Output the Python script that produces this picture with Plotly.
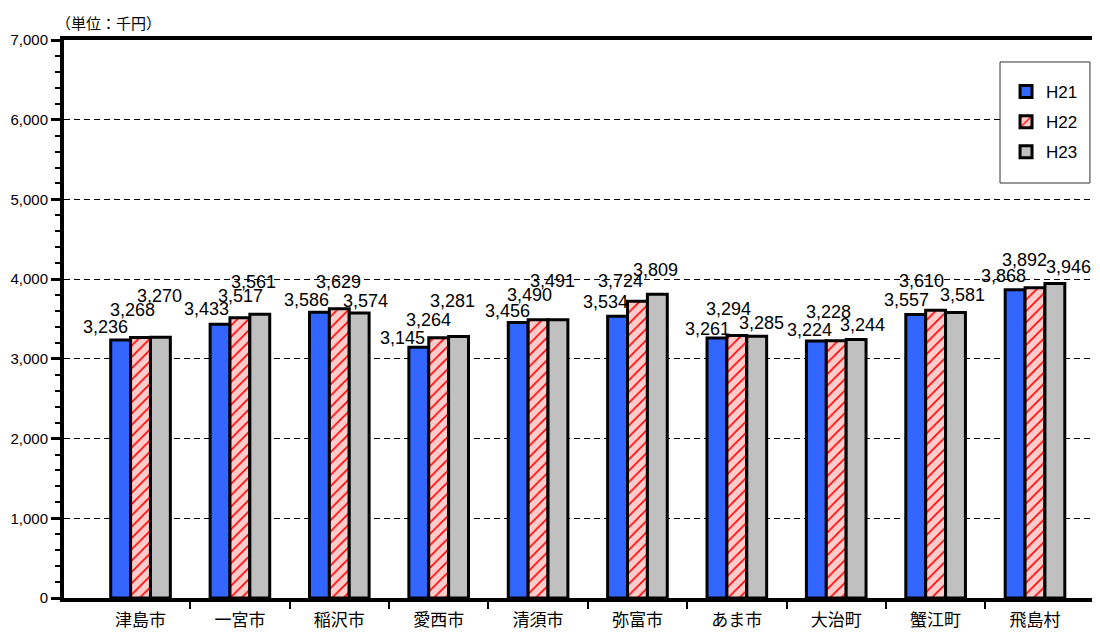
import plotly.graph_objects as go

# 市町村別の値（単位：千円）
categories = ["津島市", "一宮市", "稲沢市", "愛西市", "清須市", "弥富市", "あま市", "大治町", "蟹江町", "飛島村"]
h21 = [3236, 3433, 3586, 3145, 3456, 3534, 3261, 3224, 3557, 3868]
h22 = [3268, 3517, 3629, 3264, 3490, 3724, 3294, 3228, 3610, 3892]
h23 = [3270, 3561, 3574, 3281, 3491, 3809, 3285, 3244, 3581, 3946]
series_names = ["H21", "H22", "H23"]

# label nudges in px (dx, dy) per category, per series - the original labels were placed by hand
label_shift = [
    [(-15, 13), (-8, 27), (-1, 41)],
    [(-14, 15), (1, 22), (-6, 32)],
    [(-13, 12), (-1, 27), (6, 12)],
    [(-16, 9), (-10, 18), (-6, 35)],
    [(-11, 12), (-9, 25), (-5, 39)],
    [(-12, 14), (-17, 20), (-2, 24)],
    [(-9, 9), (-8, 26), (5, 13)],
    [(-7, 11), (-8, 29), (6, 14)],
    [(-9, 14), (-14, 29), (7, 18)],
    [(-12, 14), (-11, 28), (14, 16)],
]

x = list(range(len(categories)))

fig = go.Figure()
fig.add_trace(go.Bar(
    x=x, y=h21, name=series_names[0], legendgroup="a",
    marker=dict(color="#3366ff", line=dict(color="black", width=3)),
))
fig.add_trace(go.Bar(
    x=x, y=h22, name=series_names[1], legendgroup="b",
    marker=dict(
        color="#ffcccc",
        line=dict(color="black", width=3),
        pattern=dict(shape="/", fgcolor="#ff0000", bgcolor="#ffcccc", size=8, solidity=0.2, fillmode="replace"),
    ),
))
fig.add_trace(go.Bar(
    x=x, y=h23, name=series_names[2], legendgroup="c",
    marker=dict(color="#c0c0c0", line=dict(color="black", width=3)),
))

annotations = []
for k, vals in enumerate([h21, h22, h23]):
    for i, v in enumerate(vals):
        dx, dy = label_shift[i][k]
        annotations.append(dict(
            x=i + (k - 1) * 0.2, y=v, text=f"{v:,}", showarrow=False,
            xshift=dx, yshift=dy, yanchor="middle",
            font=dict(family="Liberation Sans, Arial", size=18, color="black"),
        ))

annotations.append(dict(
    xref="paper", yref="paper", x=0, y=1.032, xanchor="left", yanchor="middle",
    xshift=-10, text="（単位：千円）", showarrow=False,
    font=dict(family="Noto Sans CJK JP", size=15, color="black"),
))

# the page body adds an 8px offset, margins are set to compensate
fig.update_layout(
    width=1100, height=632,
    margin=dict(l=56, r=8, t=32, b=42),
    paper_bgcolor="white", plot_bgcolor="white",
    barmode="group", bargap=0.4, bargroupgap=0,
    annotations=annotations,
    shapes=[dict(
        type="rect", xref="paper", yref="paper",
        x0=0.9035, x1=0.9903, y0=0.7437, y1=0.9606,
        line=dict(color="#333333", width=1), fillcolor="white", layer="above",
    )],
    showlegend=True,
    legend=dict(
        x=0.9093, y=0.939, xanchor="left", yanchor="top",
        borderwidth=0, bgcolor="rgba(0,0,0,0)",
        font=dict(family="Liberation Sans Narrow, Liberation Sans", size=17, color="black"),
        tracegroupgap=5, traceorder="grouped",
    ),
    xaxis=dict(
        range=[-0.77, 9.654], automargin=False,
        tickmode="array", tickvals=x, ticktext=categories,
        ticks="", showline=True, linecolor="black", linewidth=4, mirror=True,
        showgrid=False, zeroline=False,
        tickfont=dict(family="Noto Sans CJK JP", size=17, color="black"),
        ticklabelstandoff=4,
        minor=dict(tickmode="array", tickvals=[i + 0.5 for i in x[:-1]],
                   ticks="outside", ticklen=7, tickwidth=2, tickcolor="black", showgrid=False),
    ),
    yaxis=dict(
        range=[0, 7000], dtick=1000, tickformat=",", automargin=False,
        ticks="outside", ticklen=9, tickwidth=3, tickcolor="black",
        showline=True, linecolor="black", linewidth=4,
        showgrid=True, gridcolor="black", gridwidth=1, griddash="6px,4px",
        zeroline=False,
        tickfont=dict(family="Liberation Sans, Arial", size=15, color="black"),
        minor=dict(dtick=200, ticks="outside", ticklen=5, tickwidth=2, tickcolor="black", showgrid=False),
    ),
)

fig.write_html("out.html")
